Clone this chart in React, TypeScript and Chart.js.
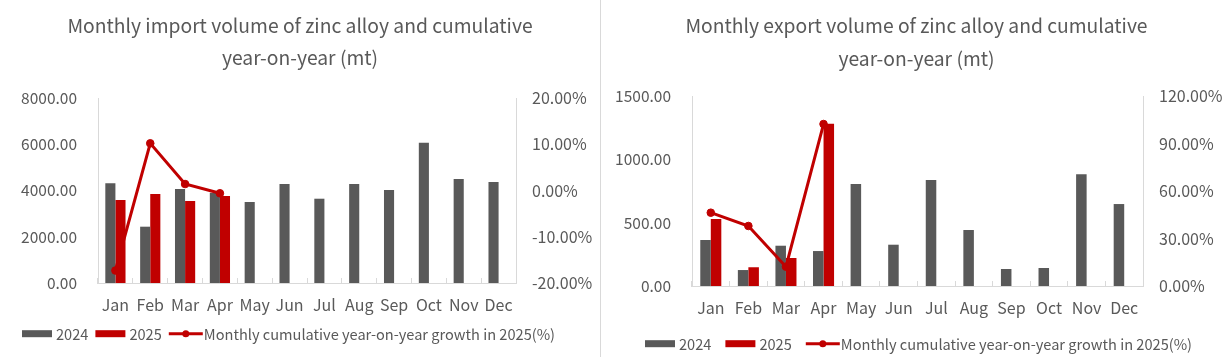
import React, { useEffect, useRef } from "react";
import { Chart, registerables } from "chart.js";

Chart.register(...registerables);

// ---------- data ----------
const months = ["Jan", "Feb", "Mar", "Apr", "May", "Jun", "Jul", "Aug", "Sep", "Oct", "Nov", "Dec"];
const seriesNames = ["2024", "2025", "Monthly cumulative year-on-year growth in 2025(%)"];

const importTitle = ["Monthly import volume of zinc alloy and cumulative", "year-on-year (mt)"];
const import2024 = [4310, 2435, 4065, 3905, 3503, 4281, 3645, 4281, 4022, 6068, 4497, 4368];
const import2025 = [3589, 3849, 3546, 3762, null, null, null, null, null, null, null, null];
const importYoY = [-17.3, 10.2, 1.4, -0.6, null, null, null, null, null, null, null, null];
const importVolTicks = [0, 2000, 4000, 6000, 8000];
const importPctTicks = [-20, -10, 0, 10, 20];

const exportTitle = ["Monthly export volume of zinc alloy and cumulative", "year-on-year (mt)"];
const export2024 = [363, 126, 318, 276, 805, 326, 837, 442, 134, 142, 882, 647];
const export2025 = [529, 148, 221, 1281, null, null, null, null, null, null, null, null];
const exportYoY = [46.3, 37.9, 12.2, 102.3, null, null, null, null, null, null, null, null];
const exportVolTicks = [0, 500, 1000, 1500];
const exportPctTicks = [0, 30, 60, 90, 120];

// ---------- styles ----------
const FONT = '"Noto Sans CJK SC", "Noto Sans", sans-serif';
const TEXT = "#595959";
const AXIS = "#D9D9D9";
const GRAY = "#595959";
const RED = "#C00000";

type Cfg = {
  width: number;
  title: string[];
  titleBaselines: number[];
  v2024: (number | null)[];
  v2025: (number | null)[];
  yoy: (number | null)[];
  volTicks: number[];
  pctTicks: number[];
  areaLeft: number;
  areaRight: number;
  areaTop: number;
  areaBottom: number;
  catPct: number;
  legendX: number;
  legendY: number;
  legendGap: number;
};

const H = 357;

function ZincChart({ cfg }: { cfg: Cfg }) {
  const ref = useRef<HTMLCanvasElement | null>(null);
  useEffect(() => {
    if (!ref.current) return;
    const overlay = {
      id: "overlay",
      afterDraw(chart: any) {
        const ctx = chart.ctx as CanvasRenderingContext2D;
        ctx.save();
        ctx.fillStyle = TEXT;
        ctx.font = `19.3px ${FONT}`;
        ctx.textAlign = "center";
        ctx.textBaseline = "alphabetic";
        cfg.title.forEach((t, i) => ctx.fillText(t, chart.width / 2, cfg.titleBaselines[i]));
        // legend
        ctx.font = `14.6px ${FONT}`;
        ctx.textAlign = "left";
        ctx.textBaseline = "middle";
        let x = cfg.legendX;
        const y = cfg.legendY;
        const ds = chart.data.datasets;
        [0, 1, 2].forEach((i) => {
          const d = ds[i];
          if (d.type === "line") {
            ctx.strokeStyle = d.borderColor;
            ctx.lineWidth = 3;
            ctx.beginPath();
            ctx.moveTo(x, y);
            ctx.lineTo(x + 34, y);
            ctx.stroke();
            ctx.fillStyle = d.borderColor;
            ctx.beginPath();
            ctx.arc(x + 17, y, 3.5, 0, Math.PI * 2);
            ctx.fill();
            x += 35;
          } else {
            ctx.fillStyle = d.backgroundColor;
            ctx.fillRect(x, y - 3.5, 30, 7);
            x += 34;
          }
          ctx.fillStyle = TEXT;
          ctx.fillText(d.label, x, y + 1);
          x += ctx.measureText(d.label).width + cfg.legendGap;
        });
        ctx.restore();
      },
    };

    const vt = cfg.volTicks;
    const pt = cfg.pctTicks;
    const chart = new Chart(ref.current, {
      type: "bar",
      data: {
        labels: months,
        datasets: [
          {
            type: "bar",
            label: seriesNames[0],
            data: cfg.v2024,
            backgroundColor: GRAY,
            yAxisID: "y",
            order: 1,
          },
          {
            type: "bar",
            label: seriesNames[1],
            data: cfg.v2025,
            backgroundColor: RED,
            yAxisID: "y",
            order: 2,
          },
          {
            type: "line",
            label: seriesNames[2],
            data: cfg.yoy,
            borderColor: RED,
            backgroundColor: RED,
            borderWidth: 3,
            pointRadius: 3.8,
            pointBackgroundColor: RED,
            pointBorderColor: RED,
            pointBorderWidth: 1,
            yAxisID: "y2",
            order: 0,
          },
        ] as any,
      },
      options: {
        responsive: false,
        animation: false,
        devicePixelRatio: 1,
        layout: { padding: { top: cfg.areaTop, left: 0, right: 0, bottom: 0 } },
        datasets: {
          bar: { categoryPercentage: cfg.catPct, barPercentage: 1 },
        } as any,
        plugins: {
          legend: { display: false },
          title: { display: false },
          tooltip: { enabled: false },
        },
        scales: {
          x: {
            offset: true,
            grid: {
              display: true,
              drawOnChartArea: false,
              drawTicks: true,
              tickLength: -5,
              color: AXIS,
            },
            border: { display: true, color: AXIS, width: 1 },
            ticks: {
              color: TEXT,
              font: { family: FONT, size: 16 },
              padding: 17.5,
              maxRotation: 0,
              autoSkip: false,
            },
            afterFit: (s: any) => {
              s.height = H - cfg.areaBottom;
            },
          },
          y: {
            position: "left",
            min: vt[0],
            max: vt[vt.length - 1],
            grid: { display: false, drawTicks: false },
            border: { display: true, color: AXIS, width: 1 },
            afterBuildTicks: (s: any) => {
              s.ticks = vt.map((v) => ({ value: v }));
            },
            ticks: {
              color: TEXT,
              font: { family: FONT, size: 15.5 },
              padding: 21,
              callback: (v: any) => Number(v).toFixed(2),
            },
            afterFit: (s: any) => {
              s.width = cfg.areaLeft;
            },
          },
          y2: {
            position: "right",
            min: pt[0],
            max: pt[pt.length - 1],
            grid: { display: false, drawTicks: false },
            border: { display: true, color: AXIS, width: 1 },
            afterBuildTicks: (s: any) => {
              s.ticks = pt.map((v) => ({ value: v }));
            },
            ticks: {
              color: TEXT,
              font: { family: FONT, size: 16 },
              padding: 16,
              callback: (v: any) => Number(v).toFixed(2) + "%",
            },
            afterFit: (s: any) => {
              s.width = cfg.width - cfg.areaRight;
            },
          },
        },
      } as any,
      plugins: [overlay],
    });
    return () => chart.destroy();
  }, [cfg]);
  return (
    <canvas
      ref={ref}
      width={cfg.width}
      height={H}
      style={{ display: "block", width: cfg.width, height: H }}
    />
  );
}

const leftCfg: Cfg = {
  width: 600,
  title: importTitle,
  titleBaselines: [32.5, 65],
  v2024: import2024,
  v2025: import2025,
  yoy: importYoY,
  volTicks: importVolTicks,
  pctTicks: importPctTicks,
  areaLeft: 98,
  areaRight: 516,
  areaTop: 98,
  areaBottom: 283,
  catPct: 0.58,
  legendX: 22,
  legendY: 333.7,
  legendGap: 7,
};

const rightCfg: Cfg = {
  width: 631,
  title: exportTitle,
  titleBaselines: [32.5, 66],
  v2024: export2024,
  v2025: export2025,
  yoy: exportYoY,
  volTicks: exportVolTicks,
  pctTicks: exportPctTicks,
  areaLeft: 91,
  areaRight: 542,
  areaTop: 96,
  areaBottom: 286,
  catPct: 0.56,
  legendX: 44,
  legendY: 343.7,
  legendGap: 14,
};

export default function App() {
  return (
    <div
      style={{
        position: "fixed",
        left: 0,
        top: 0,
        width: 1232,
        height: H,
        background: "#fff",
        display: "flex",
      }}
    >
      <ZincChart cfg={leftCfg} />
      <div style={{ width: 1, height: H, background: AXIS }} />
      <ZincChart cfg={rightCfg} />
    </div>
  );
}
